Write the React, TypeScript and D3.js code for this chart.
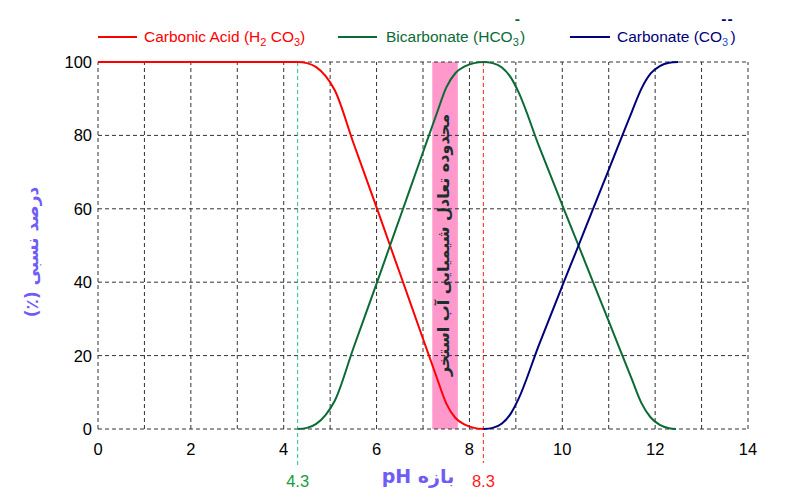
import * as d3 from 'd3';

// values (pH, percent)
const carbonicAcid: [number, number][] = [
  [0, 100], [2, 100], [4.3, 100], [4.5, 99.7], [4.7, 98.6], [4.9, 96.2], [5.1, 92.3],
  [5.5, 78], [6.0, 60.4], [6.29, 50], [6.5, 42.5], [7.0, 24.6], [7.3, 13.9], [7.5, 7],
  [7.7, 3], [7.9, 1.2], [8.1, 0.3], [8.3, 0],
];
const bicarbonate: [number, number][] = [
  [4.3, 0], [4.5, 0.3], [4.7, 1.4], [4.9, 3.8], [5.1, 7.7], [5.5, 22], [6.0, 39.6],
  [6.29, 50], [6.5, 57.5], [7.0, 75.4], [7.3, 86.1], [7.5, 93], [7.7, 97], [7.9, 98.8],
  [8.1, 99.7], [8.3, 100], [8.5, 99.7], [8.7, 98.5], [8.9, 95.6], [9.05, 92], [9.5, 77],
  [10.0, 61], [10.35, 50], [10.5, 45.2], [11.0, 29.4], [11.5, 13.5], [11.7, 7.2],
  [11.9, 3.2], [12.1, 1.1], [12.3, 0.2], [12.45, 0],
];
const carbonate: [number, number][] = [
  [8.3, 0], [8.5, 0.3], [8.7, 1.5], [8.9, 4.4], [9.05, 8], [9.5, 23], [10.0, 39],
  [10.35, 50], [10.5, 54.8], [11.0, 70.6], [11.5, 86.5], [11.7, 92.6], [11.9, 96.8],
  [12.1, 98.9], [12.3, 99.8], [12.5, 100],
];
const xTicks = [0, 2, 4, 6, 8, 10, 12, 14];
const yTicks = [0, 20, 40, 60, 80, 100];
const poolRange = [7.2, 7.75];
const markers = [4.3, 8.3];

const W = 800, H = 500;
const FONT = '"Liberation Sans", Arial, Helvetica, sans-serif';
const FA = '"DejaVu Sans", "Noto Sans", sans-serif';
const PURPLE = '#6f5cf6';

export default function App() {
  const x = d3.scaleLinear().domain([0, 14]).range([98, 748]);
  const y = d3.scaleLinear().domain([0, 100]).range([429, 62]);
  const line = d3.line<[number, number]>()
    .x(d => x(d[0]))
    .y(d => y(d[1]))
    .curve(d3.curveMonotoneX);

  const series = [
    { data: carbonicAcid, color: '#ff0000' },
    { data: bicarbonate, color: '#0b6b36' },
    { data: carbonate, color: '#000078' },
  ];

  return (
    <svg width={W} height={H} style={{ position: 'absolute', left: 0, top: 0, background: '#fff' }}>
      <rect x={0} y={0} width={W} height={H} fill="#fff" />

      {/* pool equilibrium band */}
      <rect x={x(poolRange[0])} y={y(100)} width={x(poolRange[1]) - x(poolRange[0])}
        height={y(0) - y(100)} fill="#ff99cc" />

      {/* grid */}
      {d3.range(0, 15).map(v => (
        <line key={'gx' + v} x1={x(v)} x2={x(v)} y1={y(0)} y2={y(100)}
          stroke="#333" strokeWidth={1} strokeDasharray="4,3" />
      ))}
      {yTicks.map(v => (
        <line key={'gy' + v} x1={x(0)} x2={x(14)} y1={y(v)} y2={y(v)}
          stroke="#333" strokeWidth={1} strokeDasharray="4,3" />
      ))}

      {/* tick labels */}
      {xTicks.map(v => (
        <text key={'tx' + v} x={x(v)} y={455} textAnchor="middle" fontFamily={FONT}
          fontSize={16.5} fill="#000">{v}</text>
      ))}
      {yTicks.map(v => (
        <text key={'ty' + v} x={92} y={y(v) + 6} textAnchor="end" fontFamily={FONT}
          fontSize={16.5} fill="#000">{v}</text>
      ))}

      {/* marker lines */}
      <line x1={x(markers[0])} x2={x(markers[0])} y1={y(100)} y2={466}
        stroke="#22c09a" strokeWidth={1} strokeDasharray="4,3" />
      <line x1={x(markers[1])} x2={x(markers[1])} y1={y(100)} y2={463}
        stroke="#ff2020" strokeWidth={1} strokeDasharray="4,3" />

      {/* curves */}
      {series.map((s, i) => (
        <path key={i} d={line(s.data) ?? ''} fill="none" stroke={s.color} strokeWidth={2} />
      ))}

      {/* band label */}
      <text transform={`translate(${x(7.55)},245) rotate(-90)`} textAnchor="middle"
        direction="rtl" fontFamily={FA} fontWeight="bold" fontSize={16} fill="#1a2e2e">
        محدوده تعادل شیمیایی آب استخر
      </text>

      {/* marker labels */}
      <text x={x(markers[0])} y={487} textAnchor="middle" fontFamily={FONT} fontSize={16.5}
        fill="#169c3c">{markers[0]}</text>
      <text x={x(markers[1])} y={487} textAnchor="middle" fontFamily={FONT} fontSize={16.5}
        fill="#ff1a1a">{markers[1]}</text>

      {/* axis titles */}
      <text x={418} y={483} textAnchor="middle" direction="rtl" fontFamily={FA}
        fontWeight="bold" fontSize={19} fill={PURPLE}>بازه pH</text>
      <text transform="translate(38,252) rotate(-90)" textAnchor="middle" direction="rtl"
        fontFamily={FA} fontWeight="bold" fontSize={17} fill={PURPLE}>درصد نسبی (٪)</text>

      {/* legend */}
      <g fontFamily={FONT} fontSize={15.5}>
        <line x1={98} x2={137} y1={37} y2={37} stroke="#ff0000" strokeWidth={2} />
        <text x={144} y={42} fill="#ff0000">
          Carbonic Acid (H<tspan dy={4} fontSize={11}>2</tspan>
          <tspan dy={-4}> CO</tspan><tspan dy={4} fontSize={11}>3</tspan>
          <tspan dy={-4}>)</tspan>
        </text>

        <line x1={338} x2={377} y1={37} y2={37} stroke="#0b6b36" strokeWidth={2} />
        <text x={386} y={42} fill="#0b6b36">
          Bicarbonate (HCO<tspan dy={4} fontSize={11}>3</tspan>
          <tspan dx={-4} dy={-22} fontWeight="bold">-</tspan>
          <tspan dx={0} dy={18}>)</tspan>
        </text>

        <line x1={570} x2={610} y1={37} y2={37} stroke="#000078" strokeWidth={2} />
        <text x={617} y={42} fill="#000078">
          Carbonate (CO<tspan dy={4} fontSize={11} fill="#1f4fd0">3</tspan>
          <tspan dx={-7} dy={-22} fontWeight="bold" letterSpacing={1}>--</tspan>
          <tspan dx={-3} dy={18}>)</tspan>
        </text>
      </g>
    </svg>
  );
}
